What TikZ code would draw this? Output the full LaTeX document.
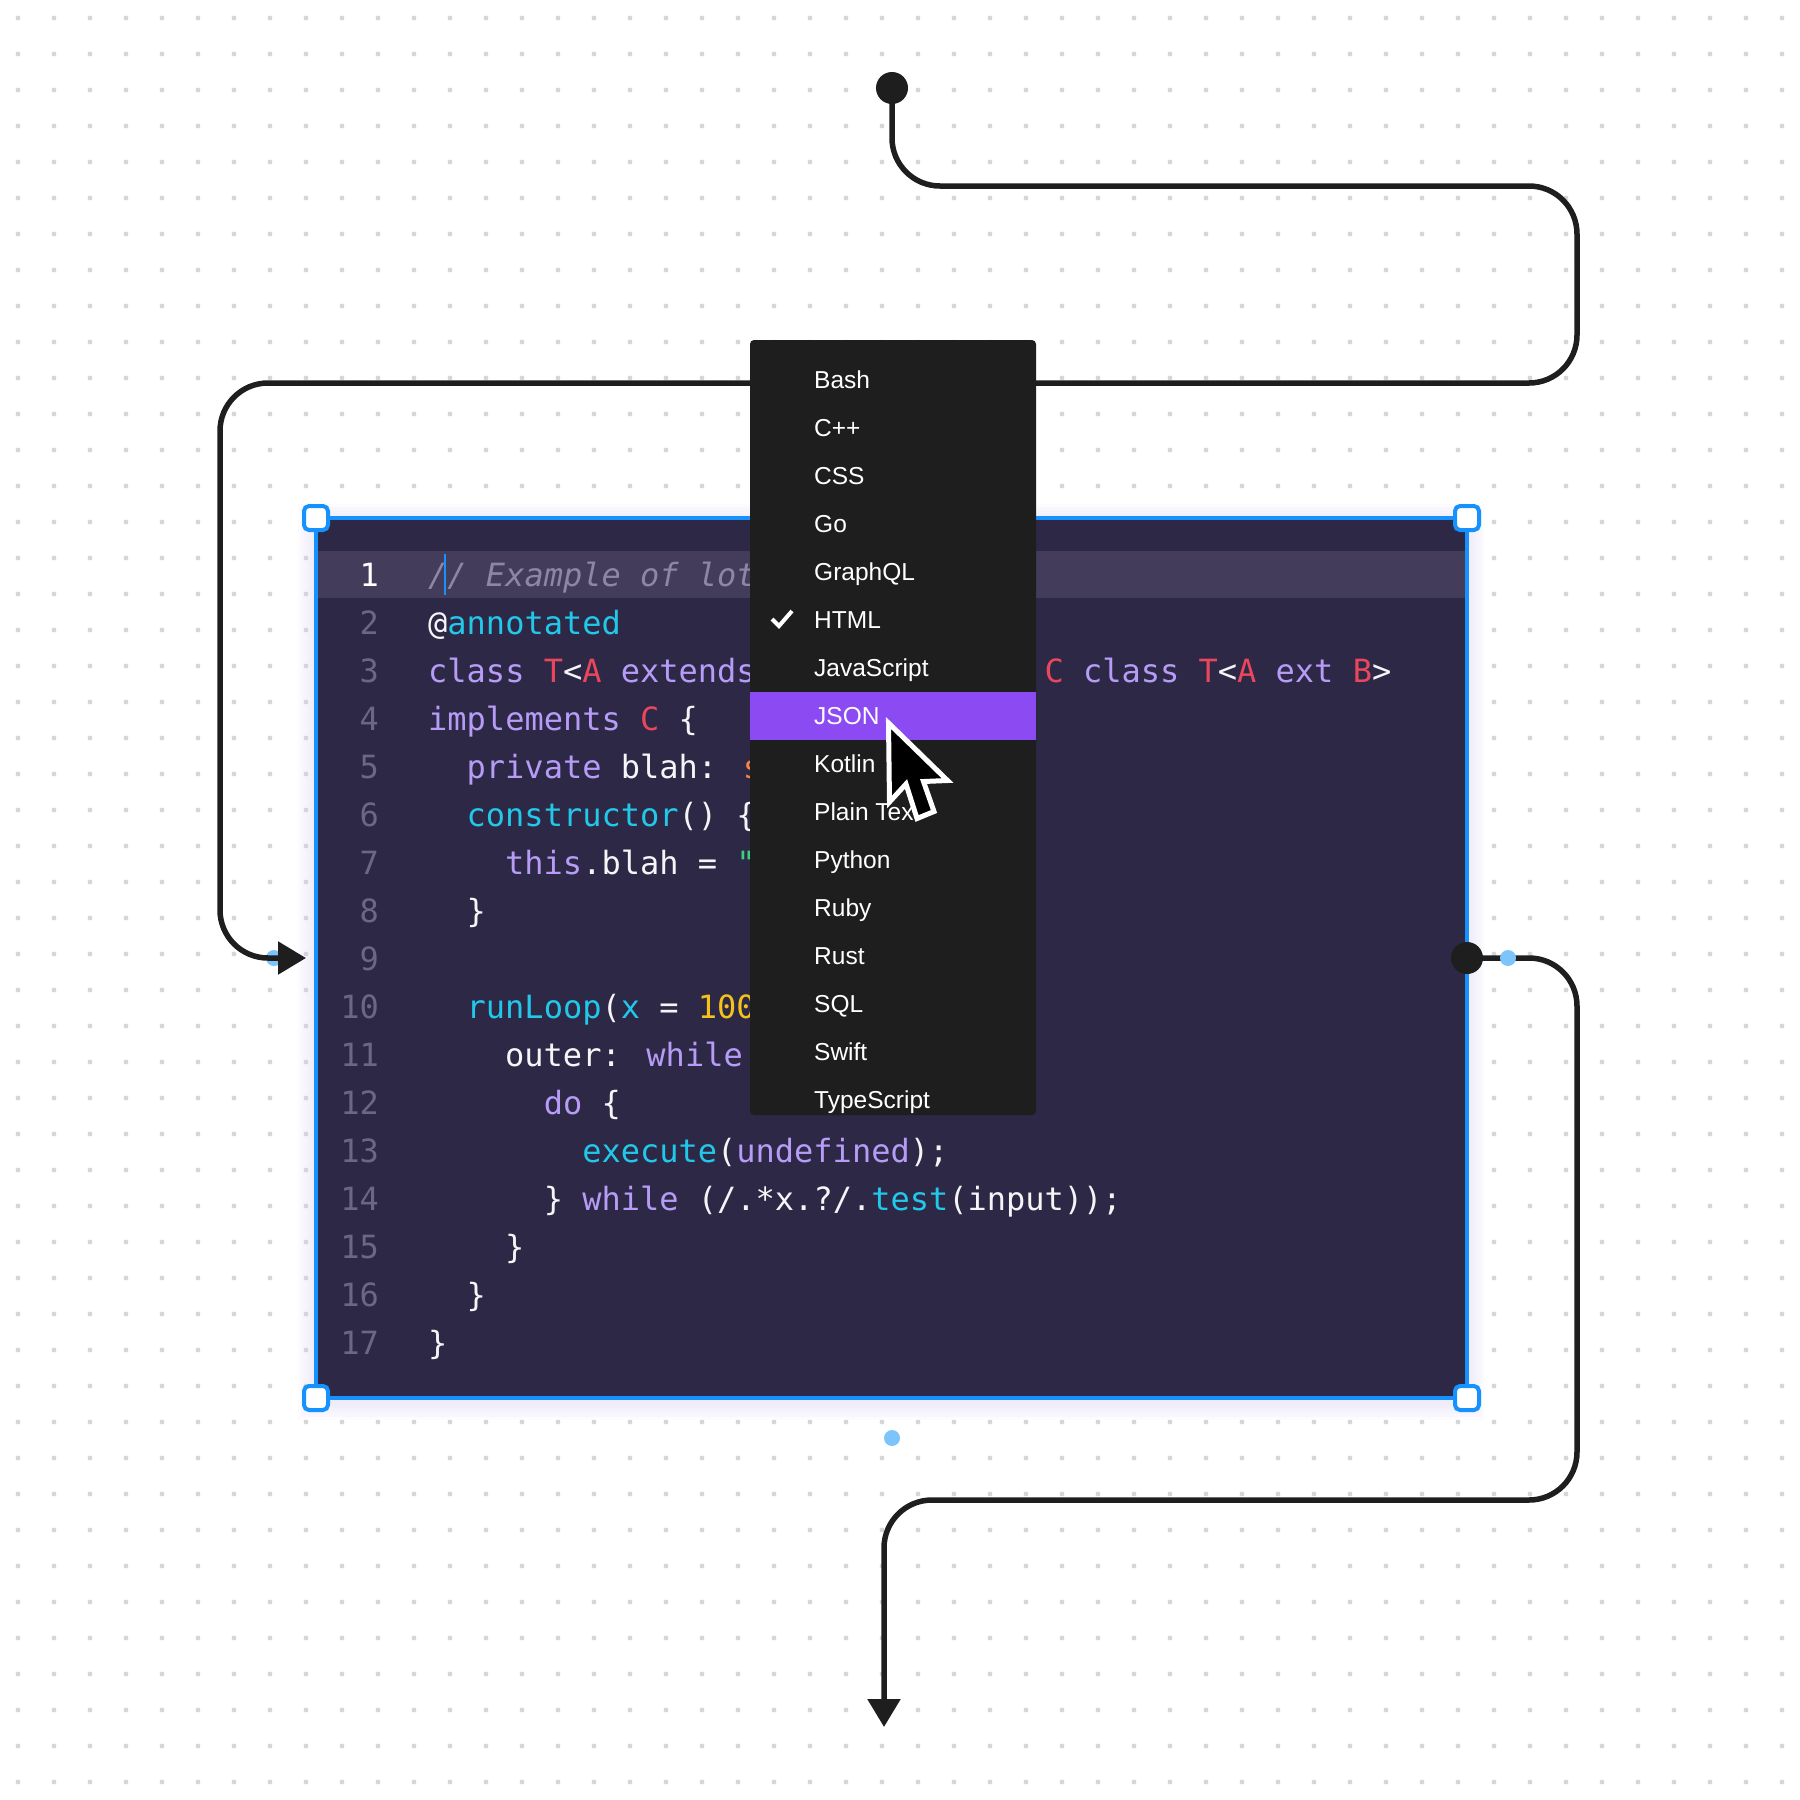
\documentclass[tikz,border=0pt]{standalone}
\usepackage{fontspec}
\setmainfont{Liberation Sans}
\newfontfamily\codefont{DejaVu Sans Mono}
\usetikzlibrary{arrows.meta,calc}
\definecolor{ink}{HTML}{1E1E1E}
\definecolor{griddot}{HTML}{D6D6D6}
\definecolor{selblue}{HTML}{1592FE}
\definecolor{handleblue}{HTML}{7CC4FA}
\definecolor{codebg}{HTML}{2D2845}
\definecolor{hlband}{HTML}{433C5B}
\definecolor{glow}{HTML}{D9CFF7}
\definecolor{menubg}{HTML}{1E1E1E}
\definecolor{selpurple}{HTML}{8B4AF2}
\definecolor{kw}{HTML}{B69CF7}
\definecolor{fn}{HTML}{22C8E9}
\definecolor{ty}{HTML}{E8475D}
\definecolor{tx}{HTML}{F5F5F7}
\definecolor{lnc}{HTML}{6C6786}
\definecolor{cmc}{HTML}{8C87A3}
\definecolor{orng}{HTML}{F0844C}
\definecolor{numc}{HTML}{F3C417}
\definecolor{strc}{HTML}{3DD17C}
\begin{document}
\begin{tikzpicture}[x=1pt,y=-1pt,
  conn/.style={draw=ink, line width=5.5pt, rounded corners=48pt},
  tipend/.style={-{Triangle[length=28pt,width=32pt]}},
  bigdot/.style={circle, fill=ink, minimum size=32pt, inner sep=0pt},
  bluedot/.style={circle, fill=handleblue, minimum size=16pt, inner sep=0pt},
  handle/.style={draw=selblue, line width=4pt, fill=white, rounded corners=5pt, minimum size=24pt, inner sep=0pt},
  codeline/.style={anchor=base west, inner sep=0pt, font=\codefont\fontsize{32pt}{38pt}\selectfont, text=tx},
  lnum/.style={anchor=base east, inner sep=0pt, font=\codefont\fontsize{32pt}{38pt}\selectfont, text=lnc},
  item/.style={anchor=base west, inner sep=0pt, font=\fontsize{24.5pt}{29pt}\selectfont, text=white},
]
\useasboundingbox (0,0) rectangle (1800,1800);
\fill[white] (0,0) rectangle (1800,1800);
\foreach \i in {0,...,49} {\foreach \j in {0,...,49} {\fill[griddot] ({18+36*\i},{18+36*\j}) circle (2.4pt);}}
% glow of the code box
\foreach \k in {1,...,6} {\fill[glow, opacity=0.07] ({316-3*\k},{518-3*\k+4}) rectangle ({1467+3*\k},{1398+3*\k+4});}
% code box
\node[draw=selblue, line width=4pt, fill=codebg, minimum width=1151pt, minimum height=880pt, inner sep=0pt, outer sep=0pt] (code) at (891.5,958) {};
\fill[hlband] ($(code.north west)+(2,33)$) rectangle ($(code.north east)+(-2,80)$);
\draw[selblue, line width=2pt] (445,554) -- (445,595);
% line numbers
\node[lnum, text=white] (n1) at (379,586) {1};
\node[lnum] (n2) at (379,634) {2};
\node[lnum] (n3) at (379,682) {3};
\node[lnum] (n4) at (379,730) {4};
\node[lnum] (n5) at (379,778) {5};
\node[lnum] (n6) at (379,826) {6};
\node[lnum] (n7) at (379,874) {7};
\node[lnum] (n8) at (379,922) {8};
\node[lnum] (n9) at (379,970) {9};
\node[lnum] (n10) at (379,1018) {10};
\node[lnum] (n11) at (379,1066) {11};
\node[lnum] (n12) at (379,1114) {12};
\node[lnum] (n13) at (379,1162) {13};
\node[lnum] (n14) at (379,1210) {14};
\node[lnum] (n15) at (379,1258) {15};
\node[lnum] (n16) at (379,1306) {16};
\node[lnum] (n17) at (379,1354) {17};
% code lines
\node[codeline, text=cmc] (c1) at (428,586) {\itshape // Example of lot};
\node[codeline] (c2) at (428,634) {@\textcolor{fn}{annotated}};
\node[codeline] (c3) at (428,682) {\textcolor{kw}{class} \textcolor{ty}{T}<\textcolor{ty}{A} \textcolor{kw}{extends}};
\node[codeline] (c3b) at (1044.3,682) {\textcolor{ty}{C} \textcolor{kw}{class} \textcolor{ty}{T}<\textcolor{ty}{A} \textcolor{kw}{ext} \textcolor{ty}{B}>};
\node[codeline] (c4) at (428,730) {\textcolor{kw}{implements} \textcolor{ty}{C} \{};
\node[codeline] (c5) at (466.5,778) {\textcolor{kw}{private} blah: \textcolor{orng}{s}};
\node[codeline] (c6) at (466.5,826) {\textcolor{fn}{constructor}() \{};
\node[codeline] (c7) at (505,874) {\textcolor{kw}{this}.blah = \textcolor{strc}{\symbol{34}}};
\node[codeline] (c8) at (466.5,922) {\}};
\node[codeline] (c10) at (466.5,1018) {\textcolor{fn}{runLoop}(\textcolor{fn}{x} = \textcolor{numc}{100}};
\node[codeline] (c11) at (505,1066) {outer: \textcolor{kw}{while}};
\node[codeline] (c12) at (543.6,1114) {\textcolor{kw}{do} \{};
\node[codeline] (c13) at (582.1,1162) {\textcolor{fn}{execute}(\textcolor{kw}{undefined});};
\node[codeline] (c14) at (543.6,1210) {\} \textcolor{kw}{while} (/.*x.?/.\textcolor{fn}{test}(input));};
\node[codeline] (c15) at (505,1258) {\}};
\node[codeline] (c16) at (466.5,1306) {\}};
\node[codeline] (c17) at (428,1354) {\}};
% selection handles
\node[handle] (h1) at (code.north west) {};
\node[handle] (h2) at (code.north east) {};
\node[handle] (h3) at (code.south west) {};
\node[handle] (h4) at (code.south east) {};
% connectors
\node[bigdot] (startdot) at (892,88) {};
\node[bigdot] (rdot) at (code.east) {};
\coordinate (bottomend) at (884,1727);
\node[bluedot] (bl) at (274,958) {};
\draw[conn, tipend] (startdot.center) -- (892,186) -- (1577,186) -- (1577,383) -- (220,383) -- (220,958) -- ($(code.west)+(-10,0)$);
\draw[conn, tipend] (rdot.center) -- (1577,958) -- (1577,1500) -- (884,1500) -- (bottomend);
\node[bluedot] (br) at (1508,958) {};
\node[bluedot] (bb) at ($(code.south)+(0.5,40)$) {};
% menu
\node[fill=menubg, rounded corners=4pt, minimum width=286pt, minimum height=775pt, inner sep=0pt] (menu) at (893,727.5) {};
\fill[selpurple] ($(menu.north west)+(0,352)$) rectangle ($(menu.north east)+(0,400)$);
\node[item] (m1) at (814,388) {Bash};
\node[item] (m2) at (814,436) {C++};
\node[item] (m3) at (814,484) {CSS};
\node[item] (m4) at (814,532) {Go};
\node[item] (m5) at (814,580) {GraphQL};
\node[item] (m6) at (814,628) {HTML};
\node[item] (m7) at (814,676) {JavaScript};
\node[item] (m8) at (814,724) {JSON};
\node[item] (m9) at (814,772) {Kotlin};
\node[item] (m10) at (814,820) {Plain Text};
\node[item] (m11) at (814,868) {Python};
\node[item] (m12) at (814,916) {Ruby};
\node[item] (m13) at (814,964) {Rust};
\node[item] (m14) at (814,1012) {SQL};
\node[item] (m15) at (814,1060) {Swift};
\node[item] (m16) at (814,1108) {TypeScript};
\draw[white, line width=4pt] (772,619) -- (779,626) -- (792,611);
% mouse pointer
\begin{scope}[shift={(886,717)}]
\filldraw[fill=black, draw=white, line width=5pt, line join=miter, miter limit=10]
  (2.5,6) -- (3.5,85) -- (20,67) -- (31,101.5) -- (48,94.5) -- (37.5,64.5) -- (61.5,63.5) -- cycle;
\end{scope}
\end{tikzpicture}
\end{document}
